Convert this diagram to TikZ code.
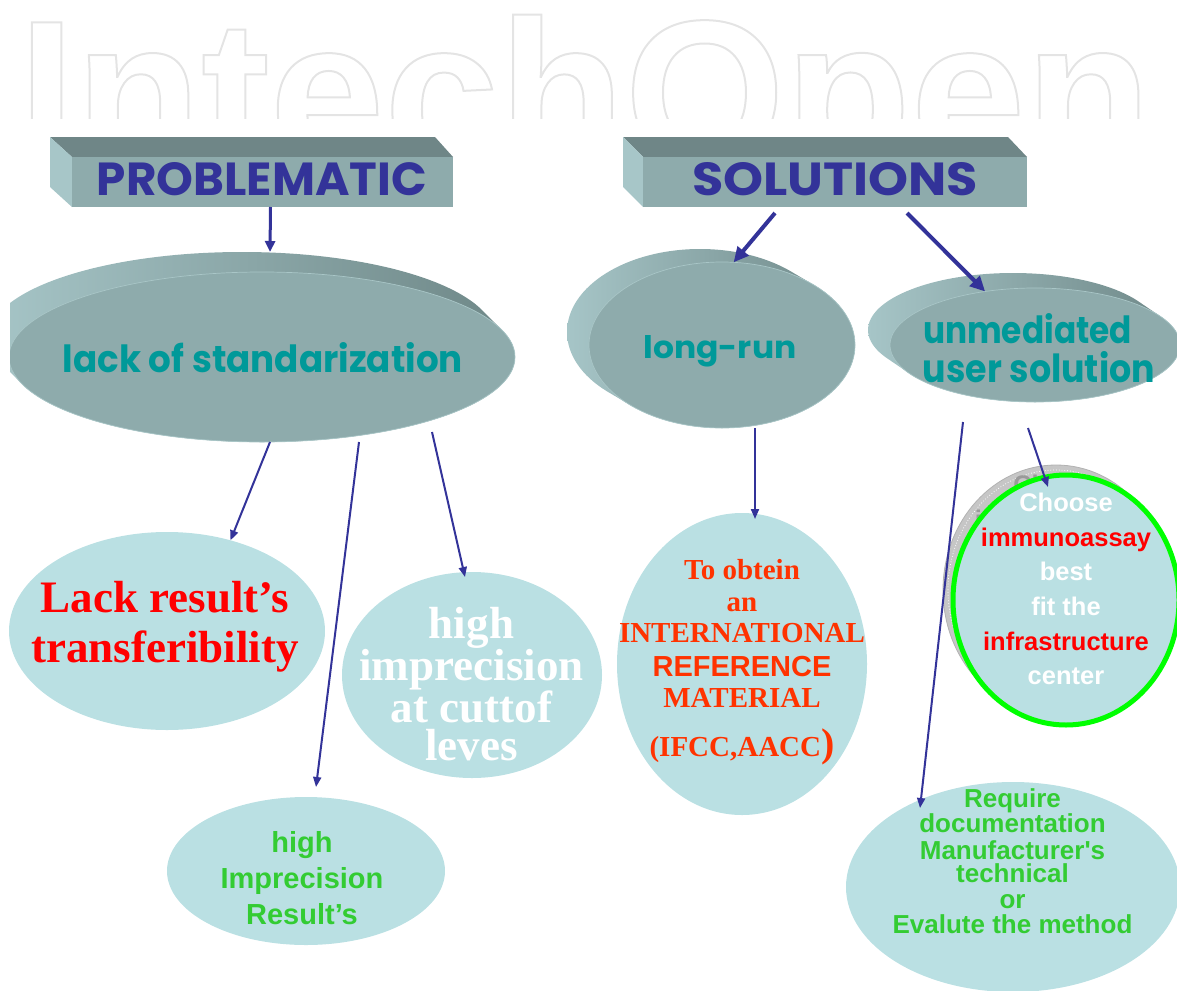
\documentclass[tikz,border=0pt]{standalone}
\usepackage{fontspec}
\usepackage{graphicx}
\usetikzlibrary{shapes.geometric,arrows.meta}
\setmainfont{Liberation Serif}
\newfontfamily\arialf{Liberation Sans}
\newfontfamily\comicf{Poppins}
\definecolor{navy}{HTML}{333399}
\definecolor{tealtxt}{HTML}{009999}
\definecolor{disktop}{HTML}{8EABAC}
\definecolor{diskedge}{HTML}{A9C6C7}
\definecolor{rimD}{HTML}{6E8787}
\definecolor{rimL}{HTML}{A6C5C7}
\definecolor{boxtop}{HTML}{6F8687}
\definecolor{boxfront}{HTML}{8EABAC}
\definecolor{boxside}{HTML}{A7C6C8}
\definecolor{cyanfill}{HTML}{BAE0E3}
\definecolor{redtxt}{HTML}{FF0000}
\definecolor{orangetxt}{HTML}{FF3300}
\definecolor{greentxt}{HTML}{33CC33}
\definecolor{ringgreen}{HTML}{00FF00}
\definecolor{shadowgray}{HTML}{C6C6C6}
\definecolor{shadowtxt}{HTML}{9A9A9A}
\definecolor{wmgray}{HTML}{E4E4E4}

\newcommand\diskrim[6]{%
  \shade[left color=rimL, middle color=rimD, right color=rimD]
    \foreach \k in {0,...,20}{ ({#1+#5*\k/20},{#2+#6*\k/20}) ellipse [x radius=#3, y radius=#4] };}

\begin{document}
\begin{tikzpicture}[x=1pt,y=-1pt,
  every node/.style={inner sep=0pt, outer sep=0pt},
  boxfront/.style={rectangle, fill=boxfront, minimum width=#1, minimum height=50pt},
  headtxt/.style={text=navy, font=\comicf\bfseries, anchor=base},
  disktxt/.style={text=tealtxt, font=\comicf\bfseries, anchor=base},
  disktopface/.style={ellipse, fill=disktop, draw=diskedge, line width=0.7pt},
  bubble/.style={ellipse, fill=cyanfill},
  arr/.style={draw=navy, line width=2pt, -{Triangle[length=10pt,width=8pt]}},
  arrmid/.style={draw=navy, line width=3pt, -{Triangle[length=11pt,width=10pt]}},
  arrbig/.style={draw=navy, line width=4pt, -{Triangle[length=15pt,width=14pt]}},
  serifbig/.style={font=\bfseries\fontsize{45}{38}\selectfont, align=center},
  sansgreen/.style={text=greentxt, font=\arialf\bfseries, align=center}
]
\useasboundingbox (0,0) rectangle (1177,990);

% watermark
\begin{scope}
  \clip (0,0) rectangle (1177,118);
  \node[anchor=base west, text=wmgray, font=\arialf\bfseries\fontsize{206}{206}\selectfont] (wm) at (18,164)
    {\special{pdf:literal direct 1 Tr 2 w}IntechOpen\special{pdf:literal direct 0 Tr}};
\end{scope}

% PROBLEMATIC box
\fill[boxtop] (50,137) -- (435,137) -- (453,157) -- (72,157) -- cycle;
\fill[boxside] (50,137) -- (72,157) -- (72,207) -- (50,187) -- cycle;
\node[boxfront=381pt] (prob) at (262.5,182) {};
\node[headtxt] (probtxt) at (262,195) {\resizebox{330pt}{33pt}{PROBLEMATIC}};

% SOLUTIONS box
\fill[boxtop] (623,137) -- (1008,137) -- (1027,157) -- (643,157) -- cycle;
\fill[boxside] (623,137) -- (643,157) -- (643,207) -- (623,187) -- cycle;
\node[boxfront=384pt] (sol) at (835,182) {};
\node[headtxt] (soltxt) at (835,195) {\resizebox{286pt}{33pt}{SOLUTIONS}};

% lack of standarization disk
\begin{scope}
  \clip (10,0) rectangle (1177,990);
  \diskrim{262}{357}{253}{85}{-20}{-20}
  \node[disktopface, minimum width=506pt, minimum height=170pt] (lack) at (262,357) {};
\end{scope}
\node[disktxt] (lacktxt) at (263,372) {\resizebox{400pt}{30pt}{lack of standarization}};

% long-run disk
\diskrim{722}{345}{133}{83}{-22}{-13}
\node[disktopface, minimum width=266pt, minimum height=166pt] (long) at (722,345) {};
\node[disktxt] (longtxt) at (720,358) {\resizebox{153pt}{23pt}{long-run}};

% unmediated user solution disk
\diskrim{1035}{345}{145}{57}{-22}{-15}
\node[disktopface, minimum width=290pt, minimum height=114pt] (unmed) at (1035,345) {};
\node[disktxt] (unmtxta) at (1027.5,343) {\resizebox{209pt}{30pt}{unmediated}};
\node[disktxt] (unmtxtb) at (1039,382) {\resizebox{232pt}{31pt}{user solution}};

% lower bubbles
\node[bubble, minimum width=316pt, minimum height=198pt] (res) at (167,631) {};
\node[serifbig, text=redtxt, font=\bfseries\fontsize{45}{50}\selectfont] (restxt) at (165,626.5) {Lack result’s\\transferibility};

\node[bubble, minimum width=260pt, minimum height=206pt] (imp1) at (472,675) {};
\node[serifbig, text=white] (imp1txt) at (471.5,684) {high\\imprecision\\at cuttof\\leves};

\node[bubble, minimum width=278pt, minimum height=148pt] (imp2) at (306,871) {};
\node[sansgreen, font=\arialf\bfseries\fontsize{29}{36}\selectfont] (imp2txt) at (302,878.5) {high\\Imprecision\\Result’s};

\node[bubble, minimum width=250pt, minimum height=302pt] (obt) at (742,664) {};
\node[text=orangetxt, align=center, font=\bfseries\fontsize{29}{32}\selectfont] (obttxt) at (742,662)
  {To obtein\\an\\[-1pt]INTERNATIONAL\\[2pt]{\arialf REFERENCE}\\[-1pt]MATERIAL\\[17pt](IFCC,AACC{\fontsize{40}{40}\selectfont )}};

% choose circle with its shadow
\node[ellipse, fill=shadowgray, draw=gray!60, line width=0.8pt, minimum width=226pt, minimum height=250pt] (chshadow) at (1056,590) {};
\draw[white, dotted, line width=0.8pt] (chshadow.center) ellipse [x radius=108, y radius=120];
\node[align=center, text=shadowtxt, font=\arialf\bfseries\fontsize{25.5}{34.6}\selectfont] (chshtxt) at (1060,571)
  {Choose\\immunoassay\\best\\fit the\\infrastructure\\center};
\node[ellipse, fill=cyanfill, draw=ringgreen, line width=5pt, minimum width=226pt, minimum height=250pt] (choose) at (1066,600) {};
\node[align=center, text=white, font=\arialf\bfseries\fontsize{25.5}{34.6}\selectfont] (choosetxt) at (1066,589)
  {Choose\\{\color{redtxt}immunoassay}\\best\\fit the\\{\color{redtxt}infrastructure}\\center};

\node[bubble, minimum width=334pt, minimum height=210pt] (req) at (1013,887) {};
\node[sansgreen, font=\arialf\bfseries\fontsize{26}{24}\selectfont] (reqtxt) at (1012.5,861)
  {Require\\documentation\\[3pt]Manufacturer's\\[-1pt]technical\\[2pt]or\\[1pt]Evalute the method};

% connectors
\draw[arrmid] ([xshift=8pt]prob.south) -- ([xshift=8pt,yshift=20pt]lack.north);
\draw[arrbig] ([xshift=-60pt,yshift=-6pt]sol.south) -- (long.82);
\draw[arrbig] ([xshift=72pt,yshift=-6pt]sol.south) -- (unmed.133);
\draw[arr] ([xshift=8pt]lack.south) -- (res.55);
\draw[arr] ([xshift=97pt]lack.south) -- ([xshift=10pt,yshift=10pt]imp2.north);
\draw[arr] ([xshift=170pt,yshift=10pt]lack.south) -- ([xshift=-7pt,yshift=-5pt]imp1.north);
\draw[arr] ([xshift=33pt]long.south) -- ([xshift=13pt,yshift=-6pt]obt.north);
\draw[arr] ([xshift=-72pt,yshift=-20pt]unmed.south) -- ([xshift=-93pt,yshift=-26pt]req.north);
\draw[arr] ([xshift=-7pt,yshift=-26pt]unmed.south) -- ([xshift=-18pt,yshift=-12pt]choose.north);
\end{tikzpicture}
\end{document}
